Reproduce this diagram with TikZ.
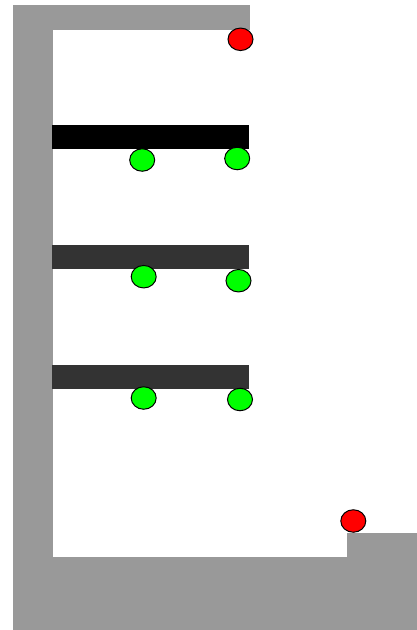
\documentclass[tikz,border=0pt]{standalone}
\usetikzlibrary{shapes.geometric}
\definecolor{wallgray}{HTML}{999999}
\definecolor{bardark}{HTML}{333333}
\definecolor{ballgreen}{HTML}{00FF00}
\definecolor{ballred}{HTML}{FF0000}
\tikzset{
  ball/.style={ellipse, draw=black, line width=1pt, inner sep=0pt, minimum width=25pt, minimum height=22.5pt},
  greenball/.style={ball, fill=ballgreen},
  redball/.style={ball, fill=ballred},
  wall/.style={fill=wallgray, draw=none},
}
\begin{document}
\begin{tikzpicture}[x=1pt,y=-1pt]
\useasboundingbox (0,0) rectangle (417,630);
% walls
\fill[wallgray] (13,5) rectangle (250,30);
\fill[wallgray] (13,5) rectangle (53,630);
\fill[wallgray] (13,557) rectangle (417,630);
\fill[wallgray] (347,533) rectangle (417,630);
% bars
\fill[black] (52,125) rectangle (249,149.3);
\fill[bardark] (52,245) rectangle (249,269.3);
\fill[bardark] (52,365) rectangle (249,389.3);
% balls
\node[redball] (r1) at (240.5,39.3) {};
\node[redball] (r2) at (353.3,521) {};
\node[greenball] (g1) at (142.2,160) {};
\node[greenball] (g2) at (237.2,158.5) {};
\node[greenball] (g3) at (143.7,276.7) {};
\node[greenball] (g4) at (238.5,280.7) {};
\node[greenball] (g5) at (143.7,398) {};
\node[greenball] (g6) at (240,399.5) {};
\end{tikzpicture}
\end{document}
